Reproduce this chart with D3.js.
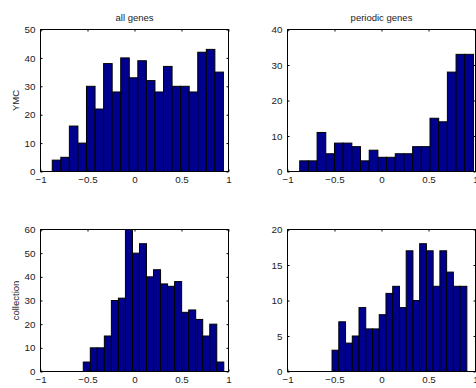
<!DOCTYPE html>
<html>
<head>
<meta charset="utf-8">
<script src="https://cdn.jsdelivr.net/npm/d3@7"></script>
<style>
  html, body { margin: 0; padding: 0; background: #fff; }
  svg { display: block; }
  text { font-family: "Liberation Sans", Arial, Helvetica, sans-serif; fill: #1a1a1a; }
</style>
</head>
<body>
<svg id="chart" width="476" height="388"></svg>
<script>
// Histogram counts (20 bins each) of correlation values
const allGenesYMC        = [4, 5, 16, 10, 30, 22, 38, 28, 40, 33, 39, 32, 28, 37, 30, 30, 28, 42, 43, 35];
const periodicGenesYMC   = [3, 3, 11, 5, 8, 8, 7, 3, 6, 4, 4, 5, 5, 7, 7, 15, 14, 28, 33, 33];
const allGenesColl       = [4, 10, 10, 15, 30, 31, 60, 50, 54, 40, 43, 37, 36, 38, 25, 26, 22, 15, 20, 4];
const periodicGenesColl  = [3, 7, 4, 5, 9, 6, 6, 8, 11, 12, 9, 17, 10, 18, 17, 12, 17, 14, 12, 12];

// Data range [min, max] covered by the 20 equal-width bins of each histogram
const allGenesYMCRange       = [-0.875, 0.946];
const periodicGenesYMCRange  = [-0.870, 0.978];
const allGenesCollRange      = [-0.545, 0.950];
const periodicGenesCollRange = [-0.526, 0.908];

// Axis ticks
const xTicks = [-1, -0.5, 0, 0.5, 1];
const yTicksYMCAll   = [0, 10, 20, 30, 40, 50];
const yTicksYMCPer   = [0, 10, 20, 30, 40];
const yTicksCollAll  = [0, 10, 20, 30, 40, 50, 60];
const yTicksCollPer  = [0, 5, 10, 15, 20];

const titles = ["all genes", "periodic genes"];
const rowLabels = ["YMC", "collection"];

const svg = d3.select("#chart");
const barFill = "#00008f";

const cols = [{ x0: 40.5, x1: 228.5 }, { x0: 287.5, x1: 475.5 }];
const rows = [{ y0: 29.5, y1: 171.5 }, { y0: 229.5, y1: 371.5 }];

const panels = [
  { r: 0, c: 0, counts: allGenesYMC,       range: allGenesYMCRange,       yTicks: yTicksYMCAll },
  { r: 0, c: 1, counts: periodicGenesYMC,  range: periodicGenesYMCRange,  yTicks: yTicksYMCPer },
  { r: 1, c: 0, counts: allGenesColl,      range: allGenesCollRange,      yTicks: yTicksCollAll },
  { r: 1, c: 1, counts: periodicGenesColl, range: periodicGenesCollRange, yTicks: yTicksCollPer }
];

const fmt = d => {
  const s = d3.format("")(d);
  return s.replace("-", "\u2212");
};

panels.forEach(p => {
  const col = cols[p.c], row = rows[p.r];
  const x = d3.scaleLinear().domain([-1, 1]).range([col.x0, col.x1]);
  const yMax = p.yTicks[p.yTicks.length - 1];
  const y = d3.scaleLinear().domain([0, yMax]).range([row.y1, row.y0]);

  const g = svg.append("g");

  // bins
  const n = p.counts.length;
  const w = (p.range[1] - p.range[0]) / n;
  const bins = p.counts.map((v, i) => ({ lo: p.range[0] + i * w, hi: p.range[0] + (i + 1) * w, v }));

  g.selectAll("rect.bar").data(bins).enter().append("rect")
    .attr("class", "bar")
    .attr("x", d => x(d.lo))
    .attr("width", d => x(d.hi) - x(d.lo))
    .attr("y", d => y(Math.min(d.v, yMax)))
    .attr("height", d => y(0) - y(Math.min(d.v, yMax)))
    .attr("fill", barFill)
    .attr("stroke", "#000")
    .attr("stroke-width", 1);

  // axes (inward ticks, on all four sides like a boxed plot)
  const tick = 2;
  const bottom = g.append("g").attr("transform", `translate(0,${row.y1})`)
    .call(d3.axisBottom(x).tickValues(xTicks).tickSize(-tick).tickPadding(5).tickFormat(fmt));
  const top = g.append("g").attr("transform", `translate(0,${row.y0})`)
    .call(d3.axisTop(x).tickValues(xTicks).tickSize(-tick).tickFormat(""));
  const left = g.append("g").attr("transform", `translate(${col.x0},0)`)
    .call(d3.axisLeft(y).tickValues(p.yTicks).tickSize(-tick).tickPadding(5).tickFormat(fmt));
  const right = g.append("g").attr("transform", `translate(${col.x1},0)`)
    .call(d3.axisRight(y).tickValues(p.yTicks).tickSize(-tick).tickFormat(""));

  [bottom, top, left, right].forEach(a => {
    a.select(".domain").remove();
    a.selectAll("line").attr("stroke", "#000");
    a.selectAll("text").attr("font-size", "9.8px").attr("fill", "#1a1a1a")
      .style("font-family", '"Liberation Sans", Arial, sans-serif');
  });

  // plot box
  g.append("rect")
    .attr("x", col.x0).attr("y", row.y0)
    .attr("width", col.x1 - col.x0).attr("height", row.y1 - row.y0)
    .attr("fill", "none").attr("stroke", "#000").attr("stroke-width", 1);

  if (p.r === 0) {
    g.append("text")
      .attr("x", (col.x0 + col.x1) / 2).attr("y", 21)
      .attr("text-anchor", "middle").attr("font-size", "9.5px")
      .text(titles[p.c]);
  }
  if (p.c === 0) {
    g.append("text")
      .attr("transform", `translate(19,${(row.y0 + row.y1) / 2}) rotate(-90)`)
      .attr("text-anchor", "middle").attr("font-size", "9.5px")
      .text(rowLabels[p.r]);
  }
});
</script>
</body>
</html>
